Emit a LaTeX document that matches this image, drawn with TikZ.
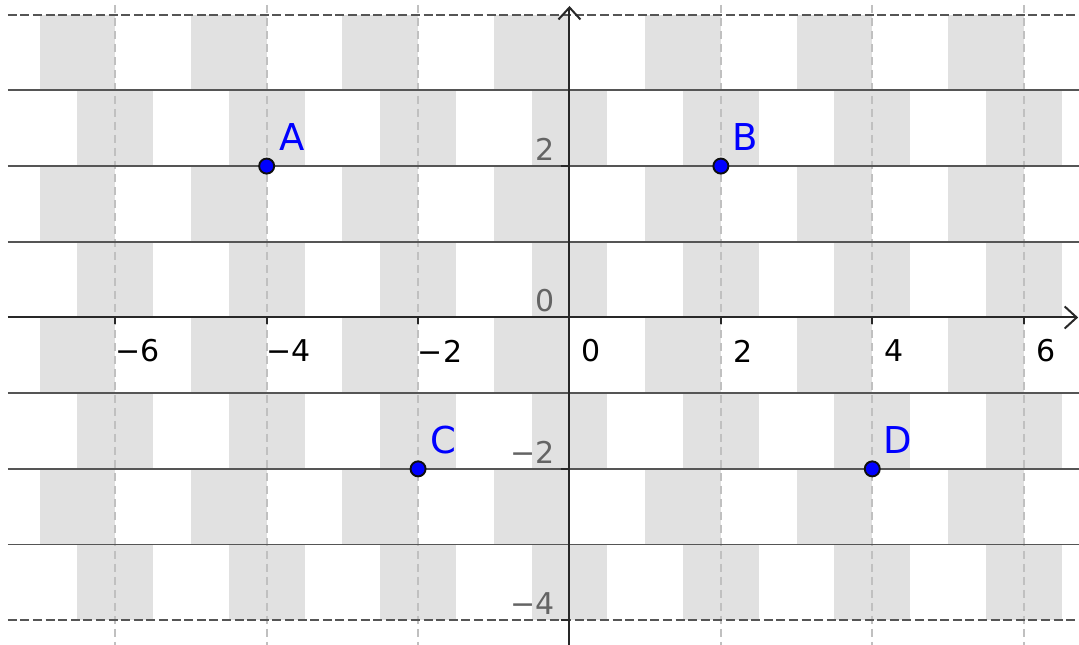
\documentclass[tikz,border=0pt]{standalone}
\usepackage{fontspec}
\setmainfont{DejaVu Sans}
\usetikzlibrary{arrows.meta}
\definecolor{cellgray}{RGB}{225,225,225}
\definecolor{axisc}{RGB}{40,40,40}
\definecolor{linec}{RGB}{85,85,85}
\definecolor{dashc}{RGB}{192,192,192}
\definecolor{ylabc}{RGB}{100,100,100}
\definecolor{ptblue}{RGB}{0,0,255}
\definecolor{ptedge}{RGB}{15,15,15}
\begin{document}
\begin{tikzpicture}[x=37.85pt,y=37.85pt,
  cell/.style={fill=cellgray},
  vdash/.style={draw=dashc,line width=1pt,dash pattern=on 4pt off 2.5pt},
  hline/.style={draw=linec,line width=0.9pt},
  hdash/.style={hline,dash pattern=on 4.5pt off 1.8pt},
  axisline/.style={draw=axisc,line width=1pt,-{Straight Barb[length=6pt,width=11pt]}},
  tickmark/.style={draw=axisc,line width=1pt},
  xlab/.style={font=\fontsize{15}{18}\selectfont,text=black,inner sep=0pt,anchor=center},
  ylab/.style={font=\fontsize{15}{18}\selectfont,text=ylabc,inner sep=0pt,anchor=east},
  pt/.style={circle,fill=ptblue,draw=ptedge,line width=0.95pt,minimum size=7.5pt,inner sep=0pt},
  plab/.style={font=\fontsize{18.5}{22}\selectfont,text=ptblue,inner sep=0pt,anchor=center}]
\useasboundingbox (-7.523,-4.326) rectangle (6.731,4.194);
\fill[white] (-7.523,-4.326) rectangle (6.731,4.194);
% checkerboard cells
\foreach \yy in {3,1,-1,-3}
  \foreach \xx in {-7,-5,-3,-1,1,3,5}
    \fill[cell] (\xx,\yy) rectangle ++(1,1);
\foreach \yy in {2,0,-2,-4}
  \foreach \xx in {-6.5,-4.5,-2.5,-0.5,1.5,3.5,5.5}
    \fill[cell] (\xx,\yy) rectangle ++(1,1);
% vertical dashed grid
\foreach \xx in {-6,-4,-2,2,4,6}
  \draw[vdash] (\xx,4.13) -- (\xx,-4.326);
% horizontal lines
\foreach \yy in {3,2,1,-1,-2,-3}
  \draw[hline] (-7.42,\yy) -- (6.731,\yy);
\foreach \yy in {4,-4}
  \draw[hdash] (-7.42,\yy) -- (6.731,\yy);
% axes
\coordinate (xs) at (-7.42,0);
\coordinate (xe) at (6.72,0);
\coordinate (ys) at (0,-4.326);
\coordinate (ye) at (0,4.115);
\draw[axisline] (xs) -- (xe);
\draw[axisline] (ys) -- (ye);
\foreach \xx in {-6,-4,-2,2,4,6}
  \draw[tickmark] (\xx,0) -- ++(0,-3.5pt);
\foreach \yy in {-4,-2,2}
  \draw[tickmark] (0,\yy) -- ++(-4pt,0);
% x labels
\foreach \xx/\tt in {-6/−6,-4/−4,-2/−2,0/0,2/2,4/4,6/6}
  \node[xlab] (xl\xx) at ([xshift=11pt,yshift=-16.75pt]\xx,0) {\tt};
% y labels
\foreach \yy/\tt in {2/2,0/0,-2/−2,-4/−4}
  \node[ylab] (yl\yy) at ([xshift=-7.25pt,yshift=8.5pt]0,\yy) {\tt};
% points
\node[pt] (A) at (-4,2) {};
\node[pt] (B) at (2,2) {};
\node[pt] (C) at (-2,-2) {};
\node[pt] (D) at (4,-2) {};
\node[plab] (lA) at ([xshift=12.5pt,yshift=14.5pt]A.center) {A};
\node[plab] (lB) at ([xshift=12pt,yshift=14.5pt]B.center) {B};
\node[plab] (lC) at ([xshift=12.5pt,yshift=14.5pt]C.center) {C};
\node[plab] (lD) at ([xshift=12.5pt,yshift=14.5pt]D.center) {D};
\end{tikzpicture}
\end{document}
